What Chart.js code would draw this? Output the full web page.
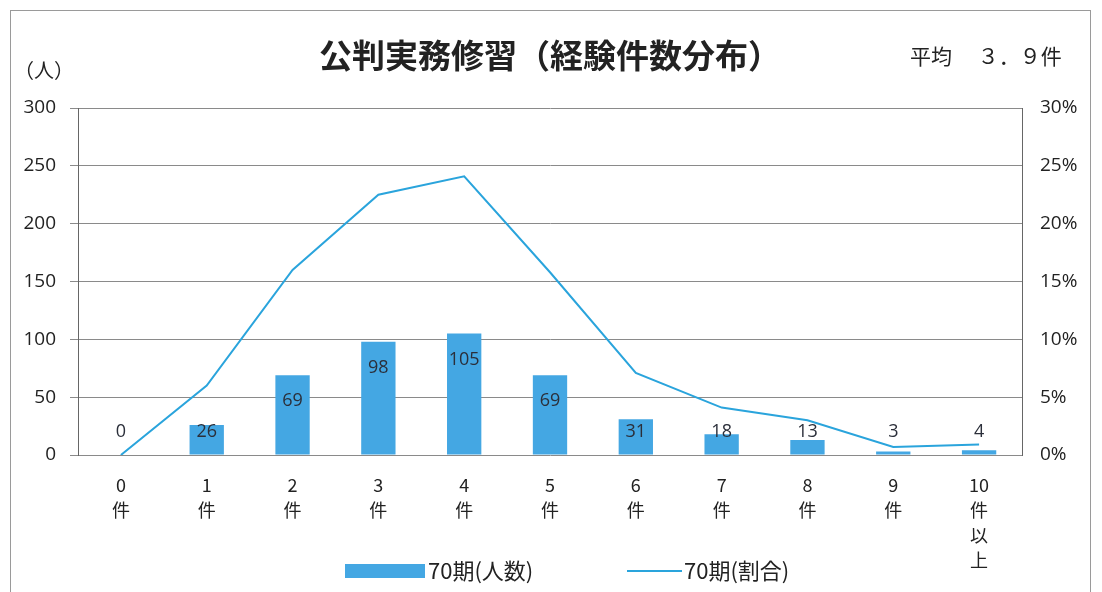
<!DOCTYPE html>
<html>
<head>
<meta charset="utf-8">
<script src="https://cdn.jsdelivr.net/npm/chart.js@4.4.1/dist/chart.umd.min.js"></script>
<style>
  html, body { margin: 0; padding: 0; background: #fff; }
  #wrap { width: 1102px; height: 592px; position: relative; }
</style>
</head>
<body>
<div id="wrap"><canvas id="c" width="1102" height="592"></canvas></div>
<script>
// データ
const categories = [['0', '件'], ['1', '件'], ['2', '件'], ['3', '件'], ['4', '件'], ['5', '件'],
  ['6', '件'], ['7', '件'], ['8', '件'], ['9', '件'], ['10', '件', '以', '上']];
const counts = [0, 26, 69, 98, 105, 69, 31, 18, 13, 3, 4];        // 70期(人数)
const ratios = [0, 6.0, 16.0, 22.5, 24.1, 15.8, 7.1, 4.1, 3.0, 0.7, 0.9]; // 70期(割合) %
const leftTicks = [0, 50, 100, 150, 200, 250, 300];
const rightTicks = [0, 5, 10, 15, 20, 25, 30];

const FONT = '"Noto Sans CJK JP", "Noto Sans", sans-serif';
const BAR = '#44a7e3';
const LINE = '#2aa4dc';

// 枠・タイトル・凡例・ラベルを描く
const decor = {
  id: 'decor',
  afterDraw(chart) {
    const ctx = chart.ctx;
    ctx.save();
    ctx.strokeStyle = '#9a9a9a';
    ctx.lineWidth = 1;
    ctx.strokeRect(10.5, 10.5, 1080, 600);

    ctx.fillStyle = '#222';
    ctx.textBaseline = 'middle';
    ctx.textAlign = 'center';
    ctx.font = 'bold 33px ' + FONT;
    ctx.fillText('公判実務修習（経験件数分布）', 550, 55);
    ctx.font = '20px ' + FONT;
    ctx.textAlign = 'left';
    ctx.fillText('（人）', 14, 70);
    ctx.font = '21px ' + FONT;
    ctx.fillText('平均　 ３．９件', 910, 56);

    // 凡例
    ctx.fillStyle = BAR;
    ctx.fillRect(345, 564, 80, 14);
    ctx.strokeStyle = LINE;
    ctx.lineWidth = 2;
    ctx.beginPath();
    ctx.moveTo(627, 571);
    ctx.lineTo(682, 571);
    ctx.stroke();
    ctx.fillStyle = '#222';
    ctx.font = '22px ' + FONT;
    ctx.fillText('70期(人数)', 428, 571);
    ctx.fillText('70期(割合)', 684, 571);

    // データラベル
    const meta = chart.getDatasetMeta(0);
    ctx.font = '18px "Open Sans", ' + FONT;
    ctx.textAlign = 'center';
    ctx.fillStyle = '#2b2f3a';
    meta.data.forEach((bar, i) => {
      const y = Math.min(bar.y + 26, 432);
      ctx.fillText(String(counts[i]), bar.x, y);
    });
    ctx.restore();
  }
};

new Chart(document.getElementById('c'), {
  type: 'bar',
  data: {
    labels: categories,
    datasets: [{
      type: 'bar',
      label: '70期(人数)',
      data: counts,
      backgroundColor: BAR,
      borderWidth: 0,
      barPercentage: 0.8,
      categoryPercentage: 0.5,
      yAxisID: 'y',
      order: 2
    }, {
      type: 'line',
      label: '70期(割合)',
      data: ratios,
      borderColor: LINE,
      borderWidth: 2,
      pointRadius: 0,
      tension: 0,
      yAxisID: 'y2',
      order: 1
    }]
  },
  options: {
    responsive: false,
    animation: false,
    layout: { padding: { top: 108, left: 0, right: 0, bottom: 0 } },
    plugins: { legend: { display: false }, tooltip: { enabled: false } },
    scales: {
      x: {
        offset: true,
        grid: { display: false },
        border: { display: false },
        ticks: { color: '#222', font: { size: 18, family: FONT, lineHeight: 1.38 }, padding: 10, maxRotation: 0, autoSkip: false },
        afterFit(s) { s.height = 137; }
      },
      y: {
        position: 'left',
        min: 0, max: 300,
        afterBuildTicks(s) { s.ticks = leftTicks.map(v => ({ value: v })); },
        grid: { color: '#8a8a8a', lineWidth: 1, tickLength: 8 },
        border: { display: true, color: '#666' },
        ticks: { color: '#222', font: { size: 19, family: '"Open Sans", sans-serif' }, padding: 14 },
        afterFit(s) { s.width = 78; }
      },
      y2: {
        position: 'right',
        min: 0, max: 30,
        afterBuildTicks(s) { s.ticks = rightTicks.map(v => ({ value: v })); },
        grid: { display: false, tickLength: 6 },
        border: { display: true, color: '#666' },
        ticks: { color: '#222', font: { size: 19, family: '"Open Sans", sans-serif' }, padding: 12,
          callback: v => v + '%' },
        afterFit(s) { s.width = 80; }
      }
    }
  },
  plugins: [decor]
});
</script>
</body>
</html>
